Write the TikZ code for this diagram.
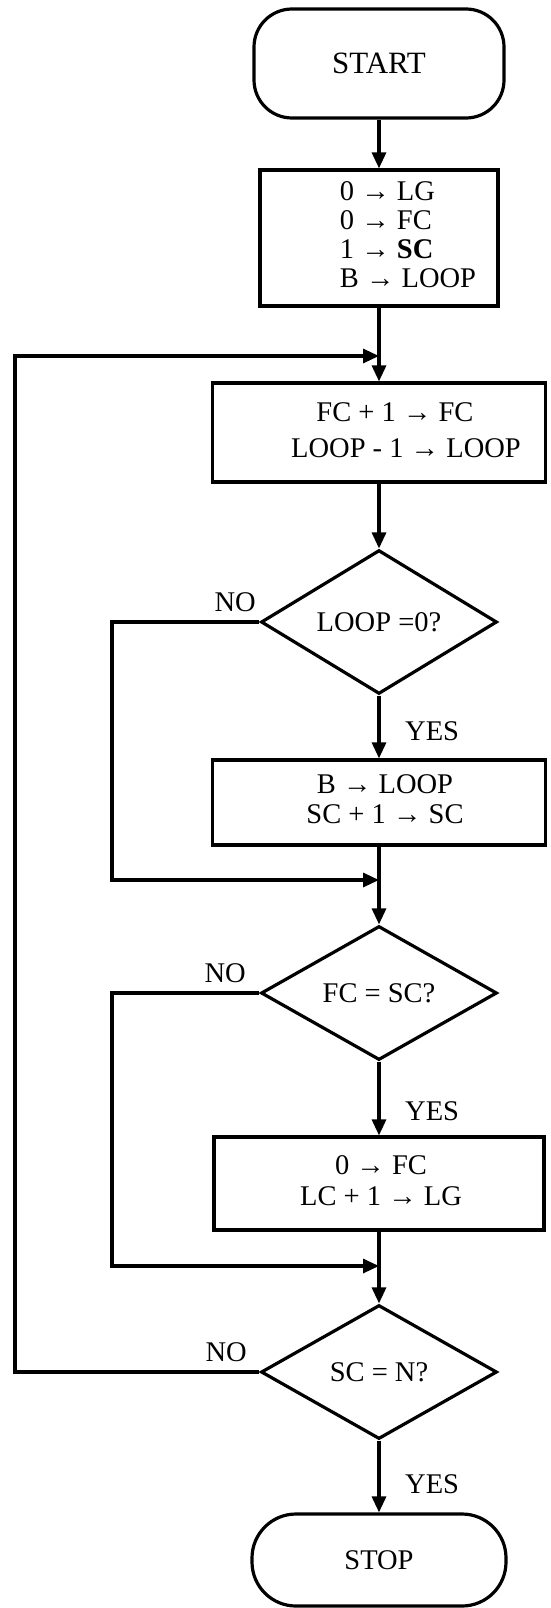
\documentclass[tikz,border=0pt]{standalone}
\usepackage{fontspec}
\setmainfont{Liberation Serif}
\usetikzlibrary{shapes.geometric,arrows.meta}
\begin{document}
\begin{tikzpicture}[x=1pt,y=-1pt,
  every node/.style={font=\fontsize{28.5}{30}\selectfont},
  flowarrow/.style={line width=3.2pt,-{Triangle[length=16pt,width=14pt]}},
  term/.style={draw,line width=3.2pt,rectangle,inner sep=0pt},
  procbox/.style={draw,line width=3.2pt,rectangle,inner sep=0pt},
  decision/.style={draw,line width=3.2pt,diamond,inner sep=0pt,minimum width=236pt,minimum height=134pt},
  lbl/.style={inner sep=0pt}
]
\fill[white] (0,0) rectangle (550,1608);
\useasboundingbox (0,0) rectangle (550,1608);

% nodes
\node[term,rounded corners=38pt,minimum width=250pt,minimum height=109pt,font=\fontsize{31}{32}\selectfont] (start) at (379,63.5) {START};
\node[procbox,minimum width=238pt,minimum height=136pt,font=\fontsize{28.5}{29}\selectfont] (b1) at (379,238)
  {\hspace*{58pt}\begin{tabular}{@{}l@{}}0 → LG\\0 → FC\\1 → \textbf{SC}\\B → LOOP\end{tabular}};
\node[procbox,minimum width=333pt,minimum height=99pt,font=\fontsize{28.5}{36}\selectfont] (b2) at (379,432.5)
  {\hspace*{32pt}\begin{tabular}{@{}c@{}}FC + 1 → FC\\\hspace*{22pt}LOOP - 1 → LOOP\end{tabular}};
\node[decision,minimum height=130pt] (d1) at (379,622) {LOOP =0?};
\node[procbox,minimum width=333pt,minimum height=85pt,font=\fontsize{28.5}{30}\selectfont] (b3) at (379,802.5)
  {\hspace*{12pt}\begin{tabular}{@{}c@{}}B → LOOP\\SC + 1 → SC\end{tabular}};
\node[decision] (d2) at (379,993) {FC = SC?};
\node[procbox,minimum width=330pt,minimum height=93pt,font=\fontsize{28.5}{31}\selectfont] (b4) at (379,1183.5)
  {\hspace*{4pt}\begin{tabular}{@{}c@{}}0 → FC\\LC + 1 → LG\end{tabular}};
\node[decision] (d3) at (379,1372) {SC = N?};
\node[term,rounded corners=44pt,minimum width=254pt,minimum height=92pt] (stop) at (379,1560) {STOP};

% labels
\node[lbl,anchor=south east] (no1) at (256,612) {NO};
\node[lbl,anchor=south east] (no2) at (246,983) {NO};
\node[lbl,anchor=south east] (no3) at (247,1362) {NO};
\node[lbl,anchor=west] (yes1) at (405,731) {YES};
\node[lbl,anchor=west] (yes2) at (405,1111) {YES};
\node[lbl,anchor=west] (yes3) at (405,1484) {YES};

% merge points
\coordinate (m0) at (379,356);
\coordinate (m1) at (379,880);
\coordinate (m2) at (379,1266);
\coordinate (loopx) at (15,356);
\coordinate (nox) at (112,0);

% connectors
\draw[flowarrow] (start) -- (b1);
\draw[flowarrow] (b1) -- (b2);
\draw[flowarrow] (b2) -- (d1);
\draw[flowarrow] (d1) -- (b3);
\draw[flowarrow] (b3) -- (d2);
\draw[flowarrow] (d2) -- (b4);
\draw[flowarrow] (b4) -- (d3);
\draw[flowarrow] (d3) -- (stop);
\draw[flowarrow] (d1.west) -- (d1.west -| nox) -- (m1 -| nox) -- (m1);
\draw[flowarrow] (d2.west) -- (d2.west -| nox) -- (m2 -| nox) -- (m2);
\draw[flowarrow] (d3.west) -- (d3.west -| loopx) -- (loopx) -- (m0);
\end{tikzpicture}
\end{document}
